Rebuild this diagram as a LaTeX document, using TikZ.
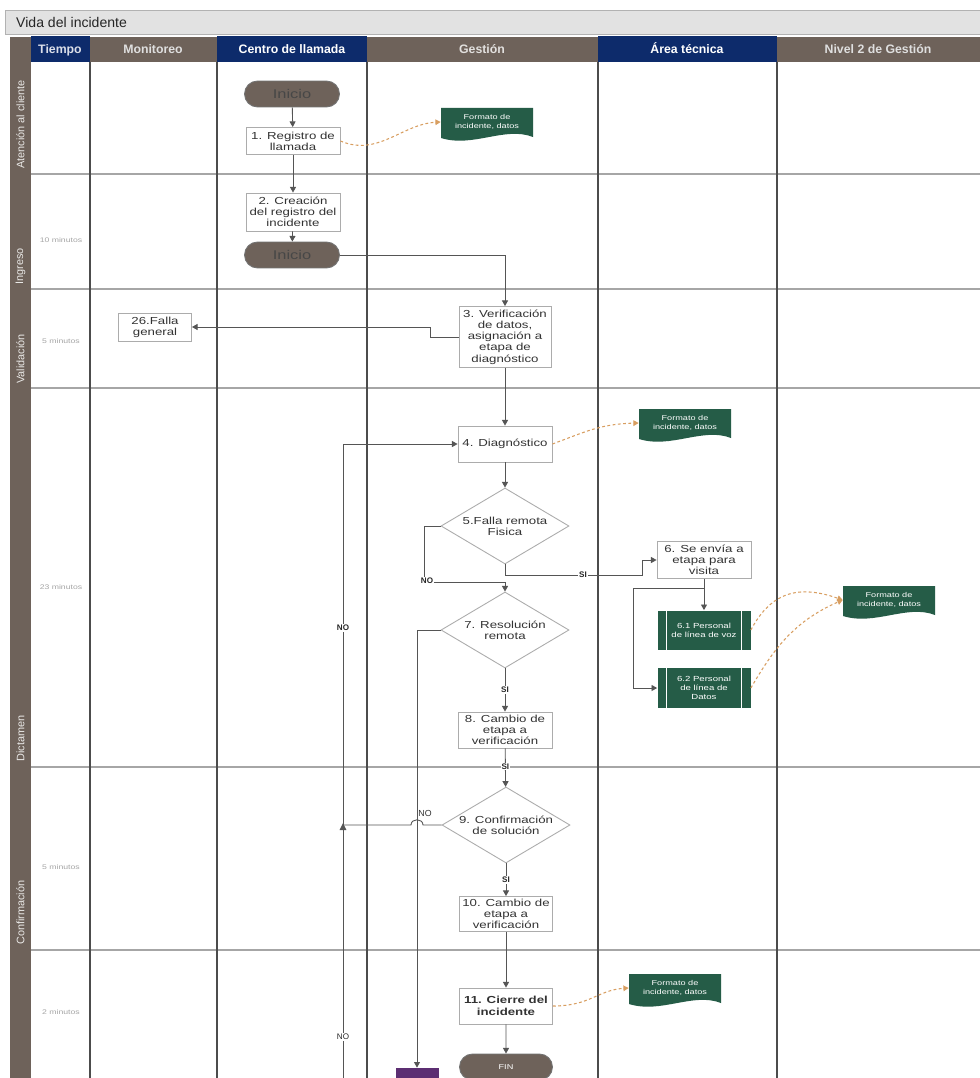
\documentclass[tikz,border=0pt]{standalone}
\usepackage{fontspec}
\setmainfont{Liberation Sans}
\newfontfamily\wide[FakeStretch=1.3]{Liberation Sans}
\usetikzlibrary{shapes.geometric,shapes.misc,arrows.meta,calc}

\definecolor{navy}{HTML}{0D2B6B}
\definecolor{umber}{HTML}{6E625A}
\definecolor{docgreen}{HTML}{255C47}
\definecolor{linegray}{HTML}{555555}
\definecolor{amber}{HTML}{D89E60}
\definecolor{plum}{HTML}{5C2E72}
\definecolor{titlegray}{HTML}{E2E2E2}

% document sheet: filled shape with a wavy lower edge and a named text node
\newcommand\docsheet[3]{%
  \fill[docgreen] (#2-46,#3-16) -- (#2+46,#3-16) -- (#2+46,#3+13)
    .. controls (#2+18,#3+2) and (#2-14,#3+24) .. (#2-46,#3+14) -- cycle;
  \node[doc] (#1) at (#2,#3-2) {Formato de\\incidente, datos};}
% predefined process: inner white side bars
\newcommand\sidebars[1]{%
  \draw[white, line width=0.5pt] ($(#1.north west)+(9,0)$) -- ($(#1.south west)+(9,0)$);
  \draw[white, line width=0.5pt] ($(#1.north east)+(-9,0)$) -- ($(#1.south east)+(-9,0)$);}

\begin{document}
\begin{tikzpicture}[x=0.02cm,y=-0.02cm,
  box/.style={rectangle, draw=gray!65, fill=white, line width=0.5pt, align=center,
    text=black!80, font=\wide\fontsize{5.8}{6.4}\selectfont, inner sep=1pt},
  term/.style={rounded rectangle, draw=black!55, fill=umber, line width=0.5pt,
    minimum width=1.9cm, minimum height=0.52cm, inner sep=0pt,
    font=\wide\fontsize{7.2}{8}\selectfont, text=black!72},
  dec/.style={diamond, draw=gray!65, fill=white, line width=0.5pt, aspect=1.68,
    minimum width=2.56cm, minimum height=1.52cm, inner sep=0pt, align=center,
    text=black!80, font=\wide\fontsize{5.8}{6.4}\selectfont},
  proc/.style={rectangle, fill=docgreen, text=white, align=center, inner sep=0pt,
    font=\wide\fontsize{4.2}{5.2}\selectfont, minimum width=1.86cm},
  doc/.style={rectangle, align=center, text=white, inner sep=0pt,
    font=\wide\fontsize{4}{4.8}\selectfont, minimum width=1.84cm, minimum height=0.6cm},
  flow/.style={draw=linegray, line width=0.5pt, -{Triangle[length=3.2pt,width=3.4pt]}},
  plain/.style={draw=linegray, line width=0.5pt},
  data/.style={draw=amber, line width=0.6pt, dash pattern=on 1.6pt off 1.4pt,
    -{Triangle[length=3pt,width=3.2pt]}},
  tag/.style={font=\bfseries\fontsize{4.6}{5}\selectfont, text=black!85, fill=white, inner sep=0.6pt},
  hdr/.style={font=\bfseries\fontsize{7}{8}\selectfont, text height=5.2pt, text depth=1.4pt},
  lane/.style={rotate=90, anchor=west, inner sep=0pt, text=white!85!umber,
    font=\fontsize{6.2}{7}\selectfont},
  time/.style={text=gray!70, font=\wide\fontsize{3.8}{4.5}\selectfont}]

\useasboundingbox (0,0) rectangle (980,1078);
\clip (0,0) rectangle (980,1078);
\fill[white] (0,0) rectangle (980,1078);

% title bar
\draw[gray!60, fill=titlegray] (5,10) rectangle (990,34);
\node[anchor=west, font=\fontsize{8}{9}\selectfont, text=black!85] (title) at (10,22) {Vida del incidente};

% header band and phase strip
\fill[umber] (10,37) rectangle (31,1090);
\fill[navy] (31,36) rectangle (90,62);
\fill[umber] (90,37) rectangle (217,62);
\fill[navy] (217,36) rectangle (367,62);
\fill[umber] (367,37) rectangle (598,62);
\fill[navy] (598,36) rectangle (777,62);
\fill[umber] (777,37) rectangle (990,62);
\node[hdr, text=white!85!navy] (hT) at (60,50) {Tiempo};
\node[hdr, text=gray!25] (hM) at (153,50) {Monitoreo};
\node[hdr, text=white] (hC) at (292,50) {Centro de llamada};
\node[hdr, text=white!80!umber] (hG) at (482,50) {Gestión};
\node[hdr, text=white] (hA) at (687,50) {Área técnica};
\node[hdr, text=gray!25] (hN) at (878,50) {Nivel 2 de Gestión};

% lane grid
\foreach \yy in {174,289,388,767,950}
  \draw[gray!70, line width=0.6pt] (31,\yy) -- (990,\yy);
\foreach \xx in {90,217,367,598,777}
  \draw[black!70, line width=0.7pt] (\xx,62) -- (\xx,1090);

% phase labels
\node[lane] (pA) at (20.5,169) {Atención al cliente};
\node[lane] (pI) at (20.5,285) {Ingreso};
\node[lane] (pV) at (20.5,384) {Validación};
\node[lane] (pD) at (20.5,762) {Dictamen};
\node[lane] (pC) at (20.5,945) {Confirmación};

% durations
\node[time] (t2) at (61,240) {10 minutos};
\node[time] (t3) at (61,341) {5 minutos};
\node[time] (t4) at (61,587) {23 minutos};
\node[time] (t5) at (61,867) {5 minutos};
\node[time] (t6) at (61,1012) {2 minutos};

% flow steps
\node[term] (ini1) at (292,94) {Inicio};
\node[box, minimum width=1.88cm, minimum height=0.54cm] (n1) at (293,141) {1. Registro de\\llamada};
\node[box, minimum width=1.88cm, minimum height=0.76cm] (n2) at (293,212) {2. Creación\\del registro del\\incidente};
\node[term] (ini2) at (292,255) {Inicio};
\node[box, minimum width=1.84cm, minimum height=1.22cm] (n3) at (505,337) {3. Verificación\\de datos,\\asignación a\\etapa de\\diagnóstico};
\node[box, minimum width=1.46cm, minimum height=0.56cm] (n26) at (155,327) {26.Falla\\general};
\node[box, minimum width=1.88cm, minimum height=0.72cm] (n4) at (505,444) {4. Diagnóstico};
\node[dec] (n5) at (505,526) {5.Falla remota\\Fisica};
\node[box, minimum width=1.88cm, minimum height=0.74cm] (n6) at (704,560) {6. Se envía a\\etapa para\\visita};
\node[proc, minimum height=0.78cm] (n61) at (704,630) {6.1 Personal\\de línea de voz};
\node[proc, minimum height=0.8cm] (n62) at (704,688) {6.2 Personal\\de línea de\\Datos};
\sidebars{n61}
\sidebars{n62}
\node[dec] (n7) at (505,630) {7. Resolución\\remota};
\node[box, minimum width=1.88cm, minimum height=0.72cm] (n8) at (505,730) {8. Cambio de\\etapa a\\verificación};
\node[dec] (n9) at (506,825) {9. Confirmación\\de solución};
\node[box, minimum width=1.86cm, minimum height=0.7cm] (n10) at (506,914) {10. Cambio de\\etapa a\\verificación};
\node[box, minimum width=1.86cm, minimum height=0.72cm, font=\wide\bfseries\fontsize{5.8}{6.6}\selectfont] (n11) at (506,1006) {11. Cierre del\\incidente};
\node[term, minimum width=1.86cm, font=\wide\fontsize{4}{5}\selectfont, text=white!90] (fin) at (506,1067) {FIN};
\node[fill=plum, minimum width=0.86cm, minimum height=0.48cm, inner sep=0pt] (pp) at (417,1080) {};

% data sheets
\docsheet{d1}{487}{124}
\docsheet{d2}{685}{425}
\docsheet{d3}{889}{602}
\docsheet{d4}{675}{990}

% connectors
\draw[flow] (ini1) -- (n1);
\draw[flow] (n1) -- (n2);
\draw[flow] (n2) -- (ini2);
\draw[flow] (ini2.east) -| (n3.north);
\draw[flow] (n3.west) -- ++(-28,0) |- (n26.east);
\draw[flow] (n3) -- (n4);
\draw[flow] (n4) -- (n5);

\coordinate (j5) at (505,582);
\draw[plain] (n5.west) -- ++(-16,0) |- (j5);
\draw[flow] (j5) -- (n7.north);
\node[tag] (no5) at (427,581) {NO};

\coordinate (s5) at (642,575);
\draw[flow] (n5.south) |- (s5) |- (n6.west);
\node[tag] (si5) at (583,575) {SI};

\draw[flow] (n6) -- (n61);
\coordinate (b6) at (704,588);
\coordinate (c6) at (633,588);
\draw[flow] (b6) -- (c6) |- (n62.west);

\draw[flow] (n7.west) -| (pp.north);
\draw[flow] (n7) -- node[tag] {SI} (n8);
\draw[flow] (n8) -- node[tag, pos=0.47] {SI} (n9);
\draw[flow] (n9) -- node[tag] {SI} (n10);
\draw[flow] (n10) -- (n11);
\draw[flow] (n11) -- (fin);

% return loop to diagnosis
\coordinate (lb) at (343,1100);
\draw[flow] (lb) |- (n4.west);
\node[tag] (noA) at (343,628) {NO};
\node[tag, font=\fontsize{4.6}{5}\selectfont] (noB) at (343,1037) {NO};

\coordinate (m9) at (343,825);
\draw[plain] (n9.west) -- (423,825) .. controls (423,818) and (411,818) .. (411,825) -- (m9);
\fill[linegray] (339.6,830) -- (346.4,830) -- (343,823) -- cycle;
\node[font=\fontsize{5}{6}\selectfont, text=black!80] (no9) at (425,813) {NO};

% data flows
\draw[data] (n1.east) .. controls (378,157) and (402,124) .. (d1.west);
\draw[data] (n4.east) .. controls (585,432) and (600,424) .. (d2.west);
\draw[data] (n61.east) .. controls (768,598) and (792,582) .. (d3.west);
\draw[data] (n62.east) .. controls (772,652) and (792,622) .. (d3.west);
\draw[data] (n11.east) .. controls (590,1006) and (598,990) .. (d4.west);
\end{tikzpicture}
\end{document}
